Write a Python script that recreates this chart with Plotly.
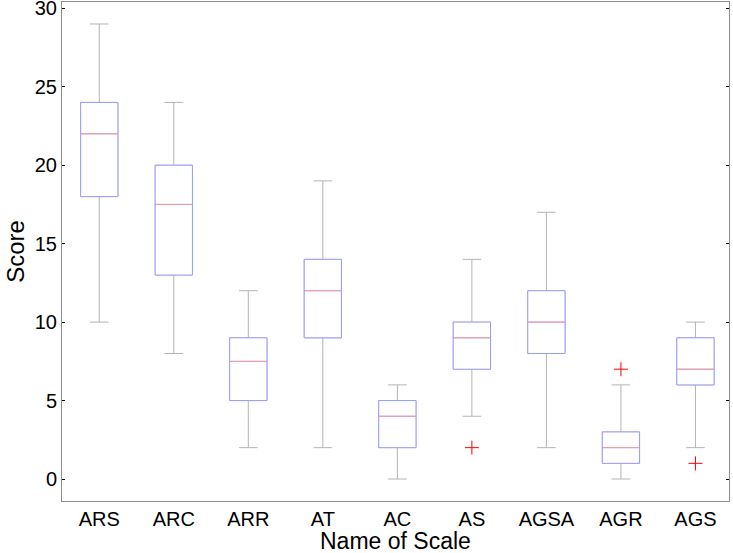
import plotly.graph_objects as go

# box statistics
scales = ["ARS", "ARC", "ARR", "AT", "AC", "AS", "AGSA", "AGR", "AGS"]
lower_whisker = [10, 8, 2, 2, 0, 4, 2, 0, 2]
q1 = [18, 13, 5, 9, 2, 7, 8, 1, 6]
median = [22, 17.5, 7.5, 12, 4, 9, 10, 2, 7]
q3 = [24, 20, 9, 14, 5, 10, 12, 3, 9]
upper_whisker = [29, 24, 12, 19, 6, 14, 17, 6, 10]

outlier_scale = ["AS", "AGR", "AGS"]
outlier_value = [2, 7, 1]

pos = list(range(1, len(scales) + 1))
box_w = 0.5

fig = go.Figure()

# gray whiskers (full box drawn gray underneath)
fig.add_trace(go.Box(
    x=pos, q1=q1, median=median, q3=q3,
    lowerfence=lower_whisker, upperfence=upper_whisker,
    width=box_w, whiskerwidth=0.5,
    line=dict(color="#b4b4b4", width=1),
    fillcolor="rgba(0,0,0,0)", boxpoints=False,
    hoverinfo="skip", showlegend=False,
))

# blue box on top
fig.add_trace(go.Box(
    x=pos, q1=q1, median=median, q3=q3,
    lowerfence=q1, upperfence=q3,
    width=box_w, whiskerwidth=0,
    line=dict(color="#9a9aff", width=1),
    fillcolor="white", boxpoints=False,
    showlegend=False,
))

# red median lines
mx, my = [], []
for p, m in zip(pos, median):
    mx += [p - box_w / 2 + 0.01, p + box_w / 2 - 0.01, None]
    my += [m, m, None]
fig.add_trace(go.Scatter(x=mx, y=my, mode="lines",
                         line=dict(color="#ff9a9a", width=1),
                         hoverinfo="skip", showlegend=False))

# outliers
ox = [scales.index(s) + 1 for s in outlier_scale]
fig.add_trace(go.Scatter(x=ox, y=outlier_value, mode="markers",
                         marker=dict(symbol="cross-thin", size=10,
                                     line=dict(color="red", width=1)),
                         showlegend=False))

fig.update_layout(
    width=733, height=553,
    margin=dict(l=62, r=4, t=2, b=52),
    plot_bgcolor="white", paper_bgcolor="white",
    font=dict(family="Liberation Sans, Arial", size=20, color="black"),
    annotations=[
        dict(text="Name of Scale", x=0.5, y=-0.081, xref="paper", yref="paper",
             xanchor="center", yanchor="middle", showarrow=False,
             font=dict(size=23)),
        dict(text="Score", x=-0.07, y=0.5, xref="paper", yref="paper",
             xanchor="center", yanchor="middle", showarrow=False,
             textangle=-90, font=dict(size=24)),
    ],
)
fig.update_xaxes(
    range=[0.5, 9.45], tickvals=pos, ticktext=scales, ticks="",
    showgrid=False, zeroline=False, showline=True, linecolor="#8c8c8c",
    linewidth=1, mirror=True, automargin=False,
)
fig.update_yaxes(
    range=[-1.4, 30.4], tickvals=[0, 5, 10, 15, 20, 25, 30],
    ticks="inside", ticklen=3, tickcolor="black",
    showgrid=False, zeroline=False, showline=True, linecolor="#8c8c8c",
    linewidth=1, mirror="ticks", automargin=False,
    ticklabeloverflow="allow",
)

fig.write_html("out.html", config={"displayModeBar": False},
               post_script="document.body.style.margin='0';document.body.style.overflow='hidden';")
